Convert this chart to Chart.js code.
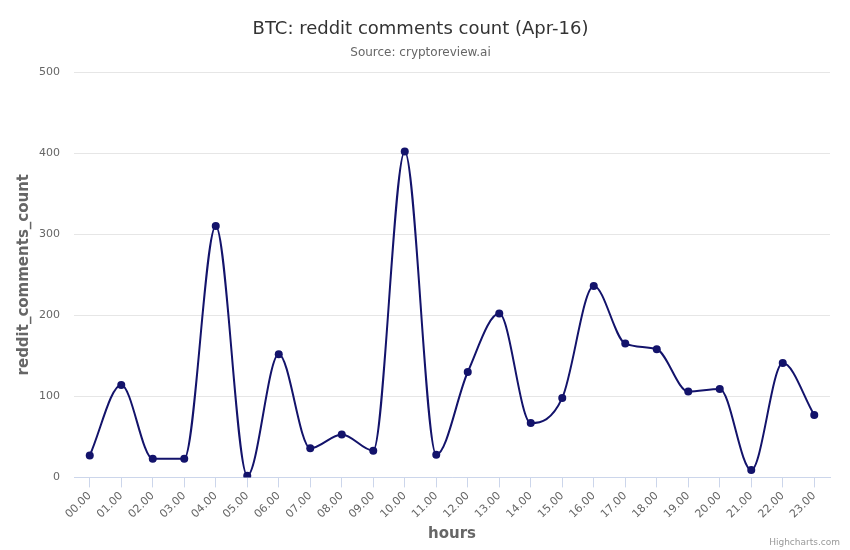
<!DOCTYPE html>
<html>
<head>
<meta charset="utf-8">
<script src="https://cdn.jsdelivr.net/npm/chart.js@4/dist/chart.umd.min.js"></script>
<style>
  html, body { margin: 0; padding: 0; background: #fff; }
  #wrap { width: 850px; height: 550px; position: relative; }
</style>
</head>
<body>
<div id="wrap"><canvas id="graph"></canvas></div>
<script>
const hours = ['00.00','01.00','02.00','03.00','04.00','05.00','06.00','07.00','08.00','09.00','10.00','11.00',
               '12.00','13.00','14.00','15.00','16.00','17.00','18.00','19.00','20.00','21.00','22.00','23.00'];
const commentCounts = [27, 114, 23, 23, 310, 2, 152, 36, 53, 33, 402, 28,
                       130, 202, 67, 98, 236, 165, 158, 106, 109, 9, 141, 77];
const yTicks = [0, 100, 200, 300, 400, 500];

const lineColor = '#13136b';

// credits text in the bottom right corner
const creditsPlugin = {
    id: 'credits',
    afterDraw(chart) {
        const c = chart.ctx;
        c.save();
        c.font = '9px "DejaVu Sans"';
        c.fillStyle = '#999999';
        c.textAlign = 'right';
        c.textBaseline = 'alphabetic';
        c.fillText('Highcharts.com', chart.width - 10, chart.height - 5);
        c.restore();
    }
};

const ctx = document.getElementById('graph').getContext('2d');
const chart = new Chart(ctx, {
    type: 'line',
    data: {
        labels: hours,
        datasets: [{
            label: 'reddit_comments_count',
            data: commentCounts,
            borderColor: lineColor,
            backgroundColor: lineColor,
            borderWidth: 2,
            pointRadius: 4,
            pointBorderWidth: 0,
            pointHoverRadius: 5,
            cubicInterpolationMode: 'monotone',
            fill: false
        }]
    },
    options: {
        responsive: true,
        maintainAspectRatio: false,
        animation: false,
        layout: { padding: { top: 0, right: 20, bottom: 3, left: 11 } },
        plugins: {
            legend: { display: false },
            tooltip: { enabled: false },
            title: {
                display: true,
                text: 'BTC: reddit comments count (Apr-16)',
                color: '#333333',
                font: { family: 'DejaVu Sans', size: 18, weight: 'normal' },
                padding: { top: 19, bottom: 5 }
            },
            subtitle: {
                display: true,
                text: 'Source: cryptoreview.ai',
                color: '#666666',
                font: { family: 'DejaVu Sans', size: 12 },
                padding: { bottom: 12 }
            }
        },
        scales: {
            x: {
                offset: true,
                grid: {
                    offset: false,
                    drawOnChartArea: false,
                    drawTicks: true,
                    tickLength: 10,
                    color: '#ccd6eb'
                },
                border: { color: '#ccd6eb' },
                ticks: {
                    color: '#666666',
                    font: { family: 'DejaVu Sans', size: 11 },
                    maxRotation: 45,
                    minRotation: 45,
                    autoSkip: false,
                    padding: 2
                },
                title: {
                    display: true,
                    text: 'hours',
                    color: '#666666',
                    font: { family: 'DejaVu Sans', size: 15, weight: 'bold' },
                    padding: { top: 2 }
                }
            },
            y: {
                min: 0,
                max: 500,
                afterBuildTicks(axis) {
                    axis.ticks = yTicks.map(v => ({ value: v }));
                },
                afterFit(axis) {
                    axis.width = 63;
                },
                grid: { color: '#e6e6e6', drawTicks: false },
                border: { display: false },
                ticks: {
                    color: '#666666',
                    font: { family: 'DejaVu Sans', size: 11 },
                    padding: 14
                },
                title: {
                    display: true,
                    text: 'reddit_comments_count',
                    color: '#666666',
                    font: { family: 'DejaVu Sans', size: 15, weight: 'bold' },
                    padding: { top: 4, bottom: 4 }
                }
            }
        }
    },
    plugins: [creditsPlugin]
});
</script>
</body>
</html>
